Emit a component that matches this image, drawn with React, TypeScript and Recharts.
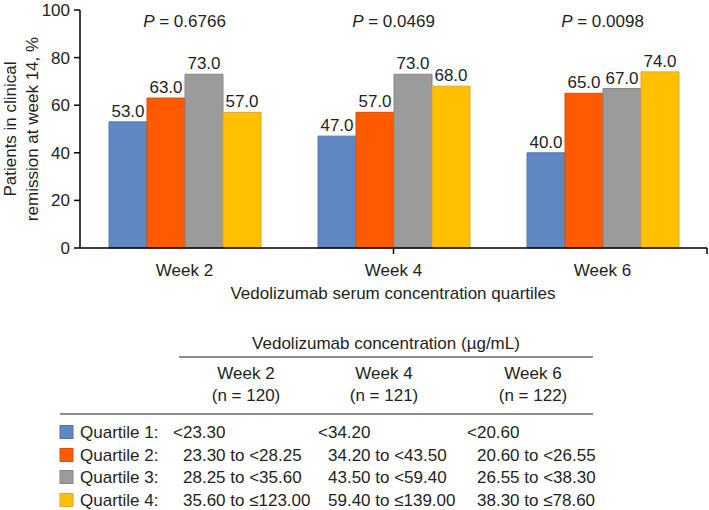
import React from "react";
import {
  BarChart,
  Bar,
  XAxis,
  YAxis,
  LabelList,
  ReferenceDot,
} from "recharts";

// chart data
const weeks = ["Week 2", "Week 4", "Week 6"];
const quartile1 = [53.0, 47.0, 40.0];
const quartile2 = [63.0, 57.0, 65.0];
const quartile3 = [73.0, 73.0, 67.0];
const quartile4 = [57.0, 68.0, 74.0];
const pValues = ["0.6766", "0.0469", "0.0098"];
const yTicks = [0, 20, 40, 60, 80, 100];

// table data
const nValues = [120, 121, 122];
const quartileNames = ["Quartile 1:", "Quartile 2:", "Quartile 3:", "Quartile 4:"];
const week2Ranges = ["<23.30", "23.30 to <28.25", "28.25 to <35.60", "35.60 to \u2264123.00"];
const week4Ranges = ["<34.20", "34.20 to <43.50", "43.50 to <59.40", "59.40 to \u2264139.00"];
const week6Ranges = ["<20.60", "20.60 to <26.55", "26.55 to <38.30", "38.30 to \u226478.60"];

const colors = ["#5f88c2", "#ff5a00", "#9b9b9b", "#ffc000"];
const outlines = ["#5278b0", "#e05000", "#858585", "#d9a830"];

const FONT = "'Liberation Sans', Arial, Helvetica, sans-serif";
const TEXT = "#231f20";

const data = weeks.map((w, i) => ({
  week: w,
  q1: quartile1[i],
  q2: quartile2[i],
  q3: quartile3[i],
  q4: quartile4[i],
}));

const fmt = (v: number) => v.toFixed(1);

const PLabel = (p: string) => (props: any) => {
  const vb = props.viewBox;
  const cx = vb.x + (vb.width || 0) / 2;
  const cy = vb.y + (vb.height || 0) / 2;
  return (
    <text x={cx} y={cy} dy="0.35em" textAnchor="middle" fill={TEXT} fontSize={17} fontFamily={FONT}>
      <tspan fontStyle="italic">P</tspan>
      {" = " + p}
    </text>
  );
};

const colX = [246, 384, 533];
const colStart = [183, 328, 477];
const rowY = [438, 461, 483, 506];
const ranges = [week2Ranges, week4Ranges, week6Ranges];

// axis titles + the concentration table, drawn over the chart
const Overlay = () => (
  <svg
    width={709}
    height={510}
    style={{ position: "absolute", left: 0, top: 0, pointerEvents: "none" }}
    fontFamily={FONT}
    fontSize={17}
    fill={TEXT}
  >
    <text x={16} y={129} transform="rotate(-90, 16, 129)" textAnchor="middle">
      Patients in clinical
    </text>
    <text x={38} y={129} transform="rotate(-90, 38, 129)" textAnchor="middle">
      remission at week 14, %
    </text>
    <text x={393} y={299} textAnchor="middle">
      Vedolizumab serum concentration quartiles
    </text>

    <text x={386} y={349} textAnchor="middle">
      Vedolizumab concentration (µg/mL)
    </text>
    <line x1={179} x2={593} y1={357} y2={357} stroke="#8c8c8c" strokeWidth={2} />
    {weeks.map((w, i) => (
      <g key={w}>
        <text x={colX[i]} y={379} textAnchor="middle">
          {w}
        </text>
        <text x={colX[i]} y={401} textAnchor="middle">
          (n = {nValues[i]})
        </text>
      </g>
    ))}
    <line x1={60} x2={593} y1={414} y2={414} stroke="#8c8c8c" strokeWidth={2} />
    {quartileNames.map((q, r) => (
      <g key={q}>
        <rect x={60} y={rowY[r] - 12.5} width={13} height={13} fill={colors[r]} stroke={outlines[r]} strokeWidth={1} />
        <text x={80} y={rowY[r]}>
          {q}
        </text>
        {ranges.map((col, c) => (
          <text key={c} x={colStart[c] - (r === 0 ? 10 : 0)} y={rowY[r]}>
            {col[r]}
          </text>
        ))}
      </g>
    ))}
  </svg>
);

export default function App() {
  return (
    <div style={{ position: "absolute", left: 0, top: 0, width: 709, height: 510, background: "#fff" }}>
      <BarChart
        width={709}
        height={320}
        data={data}
        margin={{ top: 10, right: 2, bottom: 0, left: 0 }}
        barGap={0}
        barSize={38}
      >
        {/* number axis only used for the group boundary ticks */}
        <XAxis
          xAxisId="a"
          type="number"
          domain={[0, 3]}
          ticks={[1, 2, 3]}
          interval={0}
          tickFormatter={() => ""}
          height={1}
          stroke="#000"
          strokeWidth={1.5}
          tickSize={6}
        />
        <XAxis
          xAxisId="b"
          dataKey="week"
          height={71}
          axisLine={false}
          tickLine={false}
          tickMargin={9}
          tick={{ fill: TEXT, fontSize: 17, fontFamily: FONT }}
        />
        <YAxis
          width={80}
          domain={[0, 100]}
          ticks={yTicks}
          interval={0}
          stroke="#000"
          strokeWidth={1.5}
          tickSize={6}
          tickMargin={4}
          tick={{ fill: TEXT, fontSize: 17, fontFamily: FONT }}
        />
        {["q1", "q2", "q3", "q4"].map((k, i) => (
          <Bar key={k} xAxisId="b" dataKey={k} fill={colors[i]} stroke={outlines[i]} isAnimationActive={false}>
            <LabelList dataKey={k} position="top" formatter={fmt} fill={TEXT} fontSize={17} fontFamily={FONT} />
          </Bar>
        ))}
        {weeks.map((w, i) => (
          <ReferenceDot
            key={w}
            xAxisId="b"
            x={w}
            y={95.4}
            r={0}
            fill="none"
            stroke="none"
            label={{ content: PLabel(pValues[i]) }}
          />
        ))}
      </BarChart>
      <Overlay />
    </div>
  );
}
